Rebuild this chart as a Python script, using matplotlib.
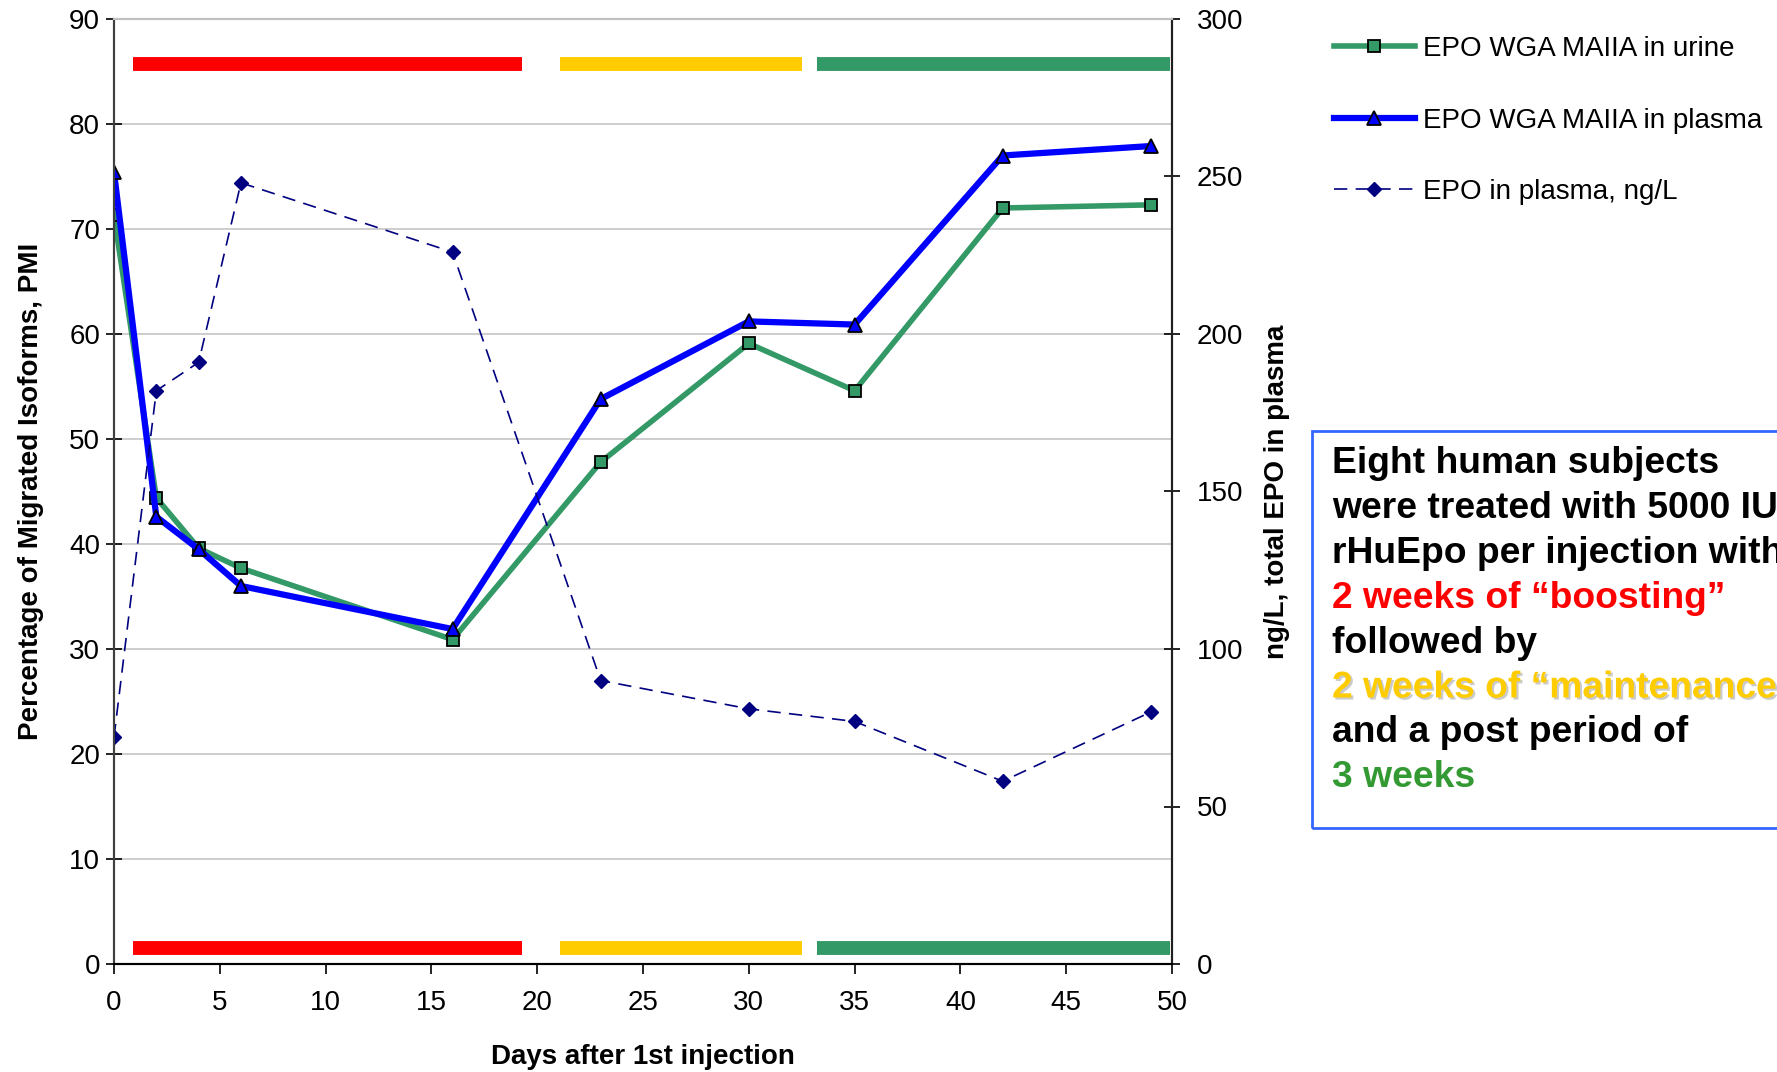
import matplotlib.pyplot as plt
from matplotlib.patches import Rectangle
import matplotlib.patheffects as pe

plt.rcParams['font.family'] = ['Liberation Sans', 'DejaVu Sans']

days = [0, 2, 4, 6, 16, 23, 30, 35, 42, 49]
pmi_urine = [71.3, 44.4, 39.6, 37.7, 30.9, 47.8, 59.1, 54.6, 72.0, 72.3]
pmi_plasma = [75.4, 42.6, 39.5, 36.0, 31.9, 53.8, 61.2, 60.9, 77.0, 77.9]
epo_plasma = [72, 182, 191, 248, 226, 90, 81, 77, 58, 80]

# treatment periods (start day, end day, colour)
periods = [(0.9, 19.3, '#FF0000'), (21.1, 32.5, '#FFCC00'), (33.2, 49.9, '#339966')]

W, H = 1777, 1072
fig = plt.figure(figsize=(W / 100, H / 100), dpi=100)
ax = fig.add_axes([114 / W, 1 - 964 / H, (1172 - 114) / W, (964 - 19) / H])
ax2 = ax.twinx()

for y in range(10, 91, 10):
    ax.axhline(y, color='#C0C0C0', lw=1.1, zorder=0)

for s, e, c in periods:
    ax.plot([s, e], [85.7, 85.7], color=c, lw=10, solid_capstyle='butt', zorder=1)
    ax.plot([s, e], [1.5, 1.5], color=c, lw=10, solid_capstyle='butt', zorder=1)

l1, = ax.plot(days, pmi_urine, color='#339966', lw=4, marker='s', ms=8,
              mfc='#339966', mec='black', mew=1.3, zorder=3,
              label='EPO WGA MAIIA in urine')
l2, = ax.plot(days, pmi_plasma, color='#0000FF', lw=4.5, marker='^', ms=10,
              mfc='#0000FF', mec='black', mew=1.3, zorder=4,
              label='EPO WGA MAIIA in plasma')
l3, = ax2.plot(days, epo_plasma, color='#000080', lw=1.2, ls=(0, (8, 5)),
               marker='D', ms=7, mfc='#000080', mec='#000080',
               label='EPO in plasma, ng/L')

ax.set_xlim(0, 50)
ax.set_ylim(0, 90)
ax2.set_ylim(0, 300)
ax.set_xticks(range(0, 51, 5))
ax.set_yticks(range(0, 91, 10))
ax2.set_yticks(range(0, 301, 50))
ax.tick_params(axis='y', direction='inout', length=12, width=1.2, labelsize=20, pad=4)
ax2.tick_params(axis='y', direction='inout', length=12, width=1.2, labelsize=20, pad=12)
ax.tick_params(axis='x', direction='out', length=7, width=1.2, labelsize=20, pad=12)

for a in (ax, ax2):
    a.spines['top'].set_color('#C0C0C0')
    a.spines['left'].set_color('#404040')
    a.spines['right'].set_color('#202020')
    a.spines['bottom'].set_color('black')
    for sp in a.spines.values():
        sp.set_linewidth(1.5)

lab = dict(fontsize=20, fontweight='bold')
ax.set_xlabel('Days after 1st injection', labelpad=20, **lab)
ax.set_ylabel('Percentage of Migrated Isoforms, PMI', labelpad=18, **lab)
ax2.set_ylabel('ng/L, total EPO in plasma', labelpad=15, **lab)

fig.legend(handles=[l1, l2, l3], loc='upper left', bbox_to_anchor=(1334 / W, 1 - 36 / H),
           frameon=False, fontsize=20, handlelength=2.9, handletextpad=0.3,
           labelspacing=1.64, borderaxespad=0, borderpad=0)

# annotation box, partly cut off at the right edge (as in the original slide)
fig.patches.append(Rectangle((1312 / W, 1 - 828 / H), 0.3, (828 - 431) / H,
                             transform=fig.transFigure, fill=False,
                             ec='#3366FF', lw=2))
lines = [('Eight human subjects', 'black'),
         ('were treated with 5000 IU', 'black'),
         ('rHuEpo per injection with', 'black'),
         ('2 weeks of \u201cboosting\u201d', '#FF0000'),
         ('followed by', 'black'),
         ('2 weeks of \u201cmaintenance\u201d', '#FFCC00'),
         ('and a post period of', 'black'),
         ('3 weeks', '#339933')]
for i, (t, c) in enumerate(lines):
    kw = {}
    if c == '#FFCC00':
        kw['path_effects'] = [pe.withSimplePatchShadow(offset=(1.5, -1.5), shadow_rgbFace='#999999', alpha=0.5)]
    fig.text(1332 / W, 1 - (464 + i * 44.8) / H, t, color=c, fontsize=26.8,
             fontweight='bold', va='center', ha='left', **kw)

fig.savefig('out.png', dpi=100)
